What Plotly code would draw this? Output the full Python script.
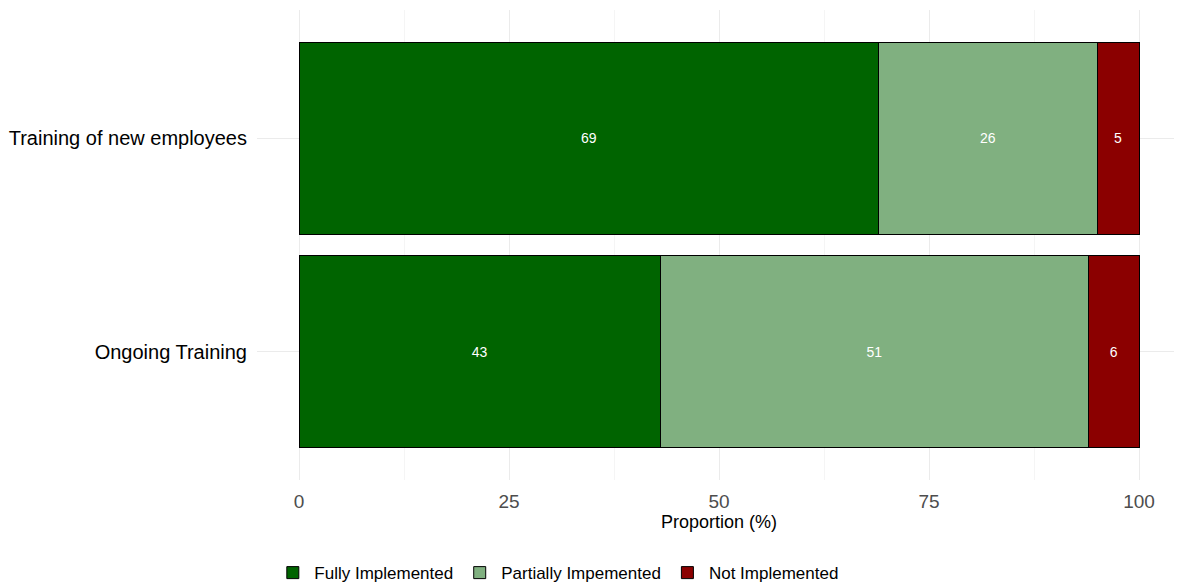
import plotly.graph_objects as go

categories = ["Ongoing Training", "Training of new employees"]
levels = ["Fully Implemented", "Partially Impemented", "Not Implemented"]
fully = [43, 69]
partially = [51, 26]
not_impl = [6, 5]

colors = {
    "Fully Implemented": "#006400",
    "Partially Impemented": "#80B080",
    "Not Implemented": "#8B0000",
}

FONT = "Liberation Sans, Arial, sans-serif"

fig = go.Figure()
for name, vals in zip(levels, [fully, partially, not_impl]):
    fig.add_trace(go.Bar(
        name=name,
        y=categories,
        x=vals,
        orientation="h",
        width=0.9,
        marker=dict(color=colors[name], line=dict(color="black", width=1)),
        text=[str(v) for v in vals],
        textposition="inside",
        insidetextanchor="middle",
        textangle=0,
        textfont=dict(family=FONT, size=14, color="white"),
        hoverinfo="skip",
    ))

# page body has an 8px margin, so offsets are compensated here
fig.update_layout(
    barmode="stack",
    width=1182,
    height=586,
    margin=dict(l=249, r=9, t=2, b=114),
    paper_bgcolor="white",
    plot_bgcolor="white",
    font=dict(family=FONT, color="black"),
    showlegend=True,
    legend=dict(
        orientation="h",
        x=0.0155, xanchor="left",
        y=-0.198, yanchor="middle",
        font=dict(family=FONT, size=17, color="black"),
        traceorder="normal",
        itemwidth=33,
        bgcolor="rgba(0,0,0,0)",
    ),
)

fig.update_xaxes(
    range=[-5, 105],
    tickvals=[0, 25, 50, 75, 100],
    ticks="",
    showline=False,
    zeroline=False,
    showgrid=True,
    gridcolor="#EBEBEB",
    gridwidth=1,
    minor=dict(tickvals=[12.5, 37.5, 62.5, 87.5], showgrid=True, gridcolor="#F5F5F5", gridwidth=1),
    tickfont=dict(family=FONT, size=19, color="#4D4D4D"),
    ticklabelstandoff=8,
    title=dict(text="Proportion (%)", font=dict(family=FONT, size=18, color="black"), standoff=4),
)
fig.update_yaxes(
    range=[-0.6, 1.6],
    categoryorder="array",
    categoryarray=categories,
    ticks="",
    showline=False,
    zeroline=False,
    showgrid=True,
    gridcolor="#EBEBEB",
    tickfont=dict(family=FONT, size=20, color="black"),
    ticklabelstandoff=9,
)

fig.write_html("out.html")
